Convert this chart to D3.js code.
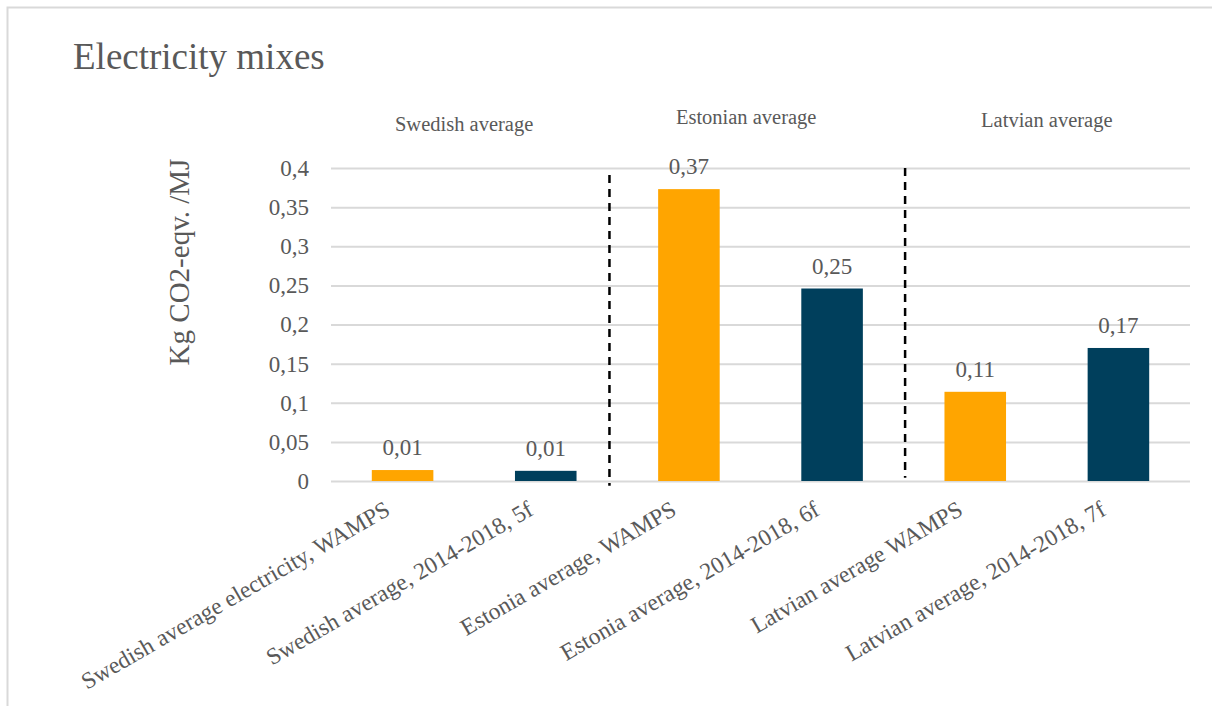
<!DOCTYPE html>
<html>
<head>
<meta charset="utf-8">
<script src="https://cdn.jsdelivr.net/npm/d3@7"></script>
<style>
  html, body { margin: 0; padding: 0; background: #fff; }
  svg { display: block; }
  text { font-family: "Liberation Serif", "Times New Roman", serif; fill: #595959; }
</style>
</head>
<body>
<svg id="chart" width="1212" height="706"></svg>
<script>
// Emission factors of electricity mixes, kg CO2-eq. per MJ
const categories = [
  "Swedish average electricity, WAMPS",
  "Swedish average, 2014-2018, 5f",
  "Estonia average, WAMPS",
  "Estonia average, 2014-2018, 6f",
  "Latvian average WAMPS",
  "Latvian average, 2014-2018, 7f"
];
const values = [0.014, 0.013, 0.373, 0.246, 0.114, 0.170];
const seriesOf = ["WAMPS", "2014-2018", "WAMPS", "2014-2018", "WAMPS", "2014-2018"];
const yTicks = [0, 0.05, 0.1, 0.15, 0.2, 0.25, 0.3, 0.35, 0.4];
const groupNames = ["Swedish average", "Estonian average", "Latvian average"];
// group header anchor: position along the category axis (in bands) and height in data units
const groupPos = [0.93, 2.9, 5.0];
const groupLevel = [0.447, 0.456, 0.452];
// dashed separators between country groups (in bands)
const dividerPos = [1.945, 4.01];

const colors = { "WAMPS": "#ffa500", "2014-2018": "#003f5c" };

const svg = d3.select("#chart");
const margin = { left: 331, right: 22, top: 168, bottom: 225 };
const W = 1212, H = 706;

// frame
svg.append("rect")
  .attr("x", 7.5).attr("y", 7.5)
  .attr("width", 1230).attr("height", 730)
  .attr("fill", "none").attr("stroke", "#d9d9d9").attr("stroke-width", 2);

const x = d3.scaleBand()
  .domain(categories)
  .range([margin.left, W - margin.right])
  .paddingInner(0.57).paddingOuter(0.285);

const y = d3.scaleLinear()
  .domain([0, 0.4])
  .range([H - margin.bottom, margin.top]);

const fmt = v => d3.format(".2f")(v).replace(".", ",");
const fmtTick = v => String(+v.toFixed(2)).replace(".", ",");

// title
svg.append("text")
  .attr("x", 73).attr("y", 69)
  .style("font-size", "37px")
  .text("Electricity mixes");

// gridlines + y axis labels
const yAxis = d3.axisLeft(y)
  .tickValues(yTicks)
  .tickSize(-(W - margin.right - margin.left))
  .tickPadding(22)
  .tickFormat(fmtTick);

const gy = svg.append("g")
  .attr("transform", `translate(${margin.left},0)`)
  .call(yAxis);
gy.select(".domain").remove();
gy.selectAll(".tick line").attr("stroke", "#d9d9d9").attr("stroke-width", 2);
gy.selectAll(".tick text")
  .style("font-size", "23px")
  .style("font-family", "'Liberation Serif', serif")
  .attr("fill", "#595959");

// y axis title
svg.append("text")
  .attr("transform", `translate(189,262) rotate(-90)`)
  .attr("text-anchor", "middle")
  .style("font-size", "29px")
  .text("Kg CO2-eqv. /MJ");

// bars
svg.append("g").selectAll("rect")
  .data(categories)
  .join("rect")
  .attr("x", d => x(d))
  .attr("width", x.bandwidth())
  .attr("y", (d, i) => y(values[i]))
  .attr("height", (d, i) => y(0) - y(values[i]))
  .attr("fill", (d, i) => colors[seriesOf[i]]);

// value labels
svg.append("g").selectAll("text")
  .data(categories)
  .join("text")
  .attr("x", d => x(d) + x.bandwidth() / 2)
  .attr("y", (d, i) => y(values[i]) - 15)
  .attr("text-anchor", "middle")
  .style("font-size", "23px")
  .text((d, i) => fmt(values[i]));

// category labels, rotated
svg.append("g").selectAll("text")
  .data(categories)
  .join("text")
  .attr("text-anchor", "end")
  .attr("transform", d => `translate(${x(d) + x.bandwidth() / 2 - 11},${y(0) + 33}) rotate(-30)`)
  .style("font-size", "23.5px")
  .text(d => d);

// group headers
const step = x.step();
svg.append("g").selectAll("text")
  .data(groupNames)
  .join("text")
  .attr("x", (d, i) => margin.left + groupPos[i] * step)
  .attr("y", (d, i) => y(groupLevel[i]))
  .attr("text-anchor", "middle")
  .style("font-size", "20.5px")
  .text(d => d);

// dashed dividers
svg.append("g").selectAll("line")
  .data(dividerPos)
  .join("line")
  .attr("x1", d => margin.left + d * step)
  .attr("x2", d => margin.left + d * step)
  .attr("y1", (d, i) => i === 0 ? y(0.391) : y(0.4))
  .attr("y2", (d, i) => i === 0 ? y(-0.006) : y(0.004))
  .attr("stroke", "#000")
  .attr("stroke-width", 2.5)
  .attr("stroke-dasharray", "8,6");
</script>
</body>
</html>
